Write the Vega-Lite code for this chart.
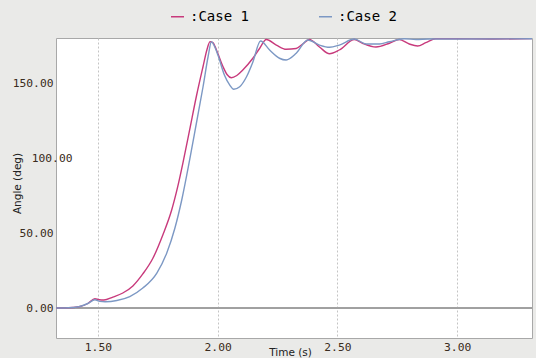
{
  "$schema": "https://vega.github.io/schema/vega-lite/v6.json",
  "width": 476,
  "height": 300,
  "autosize": "none",
  "padding": {"left": 56, "top": 38, "right": 4, "bottom": 20},
  "background": "#eaeae8",
  "config": {
    "view": {"fill": "white", "stroke": "#a8a8a8", "strokeWidth": 1},
    "axis": {
      "labelFont": "DejaVu Sans Mono",
      "labelFontSize": 11.3,
      "labelColor": "#3a2c20",
      "titleFont": "DejaVu Sans",
      "titleFontSize": 10.5,
      "titleFontWeight": "normal",
      "titleColor": "#222222",
      "ticks": false,
      "domain": false,
      "gridColor": "#c4c4c4",
      "gridDash": [2, 2],
      "gridWidth": 1
    }
  },
  "data": {
    "values": [
      {"t": 1.325, "v": 0, "c": "Case 1"},
      {"t": 1.36, "v": 0, "c": "Case 1"},
      {"t": 1.396, "v": 0.3, "c": "Case 1"},
      {"t": 1.425, "v": 1, "c": "Case 1"},
      {"t": 1.458, "v": 3, "c": "Case 1"},
      {"t": 1.4875, "v": 6.2, "c": "Case 1"},
      {"t": 1.505, "v": 5.5, "c": "Case 1"},
      {"t": 1.525, "v": 5.3, "c": "Case 1"},
      {"t": 1.5625, "v": 7.3, "c": "Case 1"},
      {"t": 1.604, "v": 10, "c": "Case 1"},
      {"t": 1.646, "v": 14.7, "c": "Case 1"},
      {"t": 1.6875, "v": 22.7, "c": "Case 1"},
      {"t": 1.729, "v": 33, "c": "Case 1"},
      {"t": 1.771, "v": 48.7, "c": "Case 1"},
      {"t": 1.808, "v": 65.3, "c": "Case 1"},
      {"t": 1.833, "v": 80.7, "c": "Case 1"},
      {"t": 1.855, "v": 96.7, "c": "Case 1"},
      {"t": 1.883, "v": 118.7, "c": "Case 1"},
      {"t": 1.911, "v": 141, "c": "Case 1"},
      {"t": 1.939, "v": 161, "c": "Case 1"},
      {"t": 1.955, "v": 172, "c": "Case 1"},
      {"t": 1.968, "v": 177.5, "c": "Case 1"},
      {"t": 1.98, "v": 177, "c": "Case 1"},
      {"t": 1.995, "v": 172, "c": "Case 1"},
      {"t": 2.022, "v": 161, "c": "Case 1"},
      {"t": 2.04, "v": 155.5, "c": "Case 1"},
      {"t": 2.057, "v": 153.5, "c": "Case 1"},
      {"t": 2.08, "v": 155, "c": "Case 1"},
      {"t": 2.105, "v": 158.7, "c": "Case 1"},
      {"t": 2.147, "v": 166.5, "c": "Case 1"},
      {"t": 2.175, "v": 173, "c": "Case 1"},
      {"t": 2.203, "v": 179, "c": "Case 1"},
      {"t": 2.245, "v": 175.3, "c": "Case 1"},
      {"t": 2.286, "v": 172.5, "c": "Case 1"},
      {"t": 2.328, "v": 173, "c": "Case 1"},
      {"t": 2.355, "v": 176, "c": "Case 1"},
      {"t": 2.383, "v": 179, "c": "Case 1"},
      {"t": 2.425, "v": 174, "c": "Case 1"},
      {"t": 2.467, "v": 169.5, "c": "Case 1"},
      {"t": 2.508, "v": 172, "c": "Case 1"},
      {"t": 2.571, "v": 179, "c": "Case 1"},
      {"t": 2.605, "v": 176.5, "c": "Case 1"},
      {"t": 2.661, "v": 174, "c": "Case 1"},
      {"t": 2.717, "v": 176.5, "c": "Case 1"},
      {"t": 2.758, "v": 179, "c": "Case 1"},
      {"t": 2.8, "v": 176, "c": "Case 1"},
      {"t": 2.835, "v": 174.7, "c": "Case 1"},
      {"t": 2.869, "v": 176.9, "c": "Case 1"},
      {"t": 2.911, "v": 179.5, "c": "Case 1"},
      {"t": 3.0, "v": 179.5, "c": "Case 1"},
      {"t": 3.133, "v": 179.3, "c": "Case 1"},
      {"t": 3.3125, "v": 179.6, "c": "Case 1"},
      {"t": 1.325, "v": 0, "c": "Case 2"},
      {"t": 1.36, "v": 0, "c": "Case 2"},
      {"t": 1.396, "v": 0.3, "c": "Case 2"},
      {"t": 1.425, "v": 1, "c": "Case 2"},
      {"t": 1.458, "v": 3, "c": "Case 2"},
      {"t": 1.4875, "v": 5.5, "c": "Case 2"},
      {"t": 1.508, "v": 4.4, "c": "Case 2"},
      {"t": 1.53, "v": 4.2, "c": "Case 2"},
      {"t": 1.579, "v": 5, "c": "Case 2"},
      {"t": 1.633, "v": 7.6, "c": "Case 2"},
      {"t": 1.6875, "v": 13.3, "c": "Case 2"},
      {"t": 1.746, "v": 23.3, "c": "Case 2"},
      {"t": 1.7875, "v": 36.7, "c": "Case 2"},
      {"t": 1.821, "v": 53, "c": "Case 2"},
      {"t": 1.85, "v": 72, "c": "Case 2"},
      {"t": 1.883, "v": 98.7, "c": "Case 2"},
      {"t": 1.911, "v": 123, "c": "Case 2"},
      {"t": 1.939, "v": 147.5, "c": "Case 2"},
      {"t": 1.96, "v": 167.5, "c": "Case 2"},
      {"t": 1.974, "v": 177.5, "c": "Case 2"},
      {"t": 1.985, "v": 175, "c": "Case 2"},
      {"t": 2.001, "v": 168.7, "c": "Case 2"},
      {"t": 2.029, "v": 155, "c": "Case 2"},
      {"t": 2.05, "v": 148.7, "c": "Case 2"},
      {"t": 2.067, "v": 145.8, "c": "Case 2"},
      {"t": 2.092, "v": 147.5, "c": "Case 2"},
      {"t": 2.12, "v": 154, "c": "Case 2"},
      {"t": 2.147, "v": 164, "c": "Case 2"},
      {"t": 2.179, "v": 178, "c": "Case 2"},
      {"t": 2.217, "v": 172, "c": "Case 2"},
      {"t": 2.258, "v": 166.5, "c": "Case 2"},
      {"t": 2.286, "v": 165.3, "c": "Case 2"},
      {"t": 2.328, "v": 169.8, "c": "Case 2"},
      {"t": 2.376, "v": 178.7, "c": "Case 2"},
      {"t": 2.425, "v": 175.3, "c": "Case 2"},
      {"t": 2.467, "v": 173.8, "c": "Case 2"},
      {"t": 2.508, "v": 175.3, "c": "Case 2"},
      {"t": 2.571, "v": 179.3, "c": "Case 2"},
      {"t": 2.62, "v": 176, "c": "Case 2"},
      {"t": 2.675, "v": 176, "c": "Case 2"},
      {"t": 2.717, "v": 177.5, "c": "Case 2"},
      {"t": 2.779, "v": 179.5, "c": "Case 2"},
      {"t": 2.828, "v": 179, "c": "Case 2"},
      {"t": 2.883, "v": 179.3, "c": "Case 2"},
      {"t": 3.021, "v": 179.3, "c": "Case 2"},
      {"t": 3.3125, "v": 179.5, "c": "Case 2"}
    ]
  },
  "layer": [
    {
      "mark": {"type": "rule", "color": "#a0a0a0", "strokeWidth": 1},
      "encoding": {"y": {"datum": 0, "type": "quantitative"}}
    },
    {
      "mark": {"type": "line", "strokeWidth": 1.4, "clip": true, "interpolate": "monotone"},
      "encoding": {
        "x": {
          "field": "t",
          "type": "quantitative",
          "scale": {"domain": [1.325, 3.3125], "nice": false, "zero": false},
          "axis": {
            "values": [1.5, 2, 2.5, 3],
            "format": ".2f",
            "title": "Time (s)",
            "labelPadding": 3,
            "titleX": 234,
            "titleY": 14,
            "titleBaseline": "middle",
            "titleAlign": "center"
          }
        },
        "y": {
          "field": "v",
          "type": "quantitative",
          "scale": {"domain": [-20, 180], "nice": false, "zero": false},
          "axis": {
            "values": [0, 25, 50, 75, 100, 125, 150, 175],
            "labelExpr": "datum.value % 50 === 0 ? format(datum.value, '.2f') : ''",
            "title": "Angle (deg)",
            "labelPadding": {"condition": {"test": "datum.value === 100", "value": -16}, "value": 3},
            "titleX": -38.5,
            "titleY": 145,
            "titleAngle": 270,
            "titleBaseline": "middle",
            "titleAlign": "center"
          }
        },
        "color": {
          "field": "c",
          "type": "nominal",
          "scale": {"domain": ["Case 1", "Case 2"], "range": ["#c83a7c", "#7c98c4"]},
          "legend": {
            "orient": "none",
            "legendX": 114,
            "legendY": -29,
            "direction": "horizontal",
            "title": null,
            "padding": 0,
            "symbolType": "stroke",
            "symbolSize": 169,
            "symbolStrokeWidth": 1.5,
            "labelOffset": 5,
            "labelFont": "DejaVu Sans Mono",
            "labelFontSize": 14,
            "labelColor": "#000000",
            "columnPadding": 66,
            "labelExpr": "':' + datum.label"
          }
        }
      }
    }
  ]
}
